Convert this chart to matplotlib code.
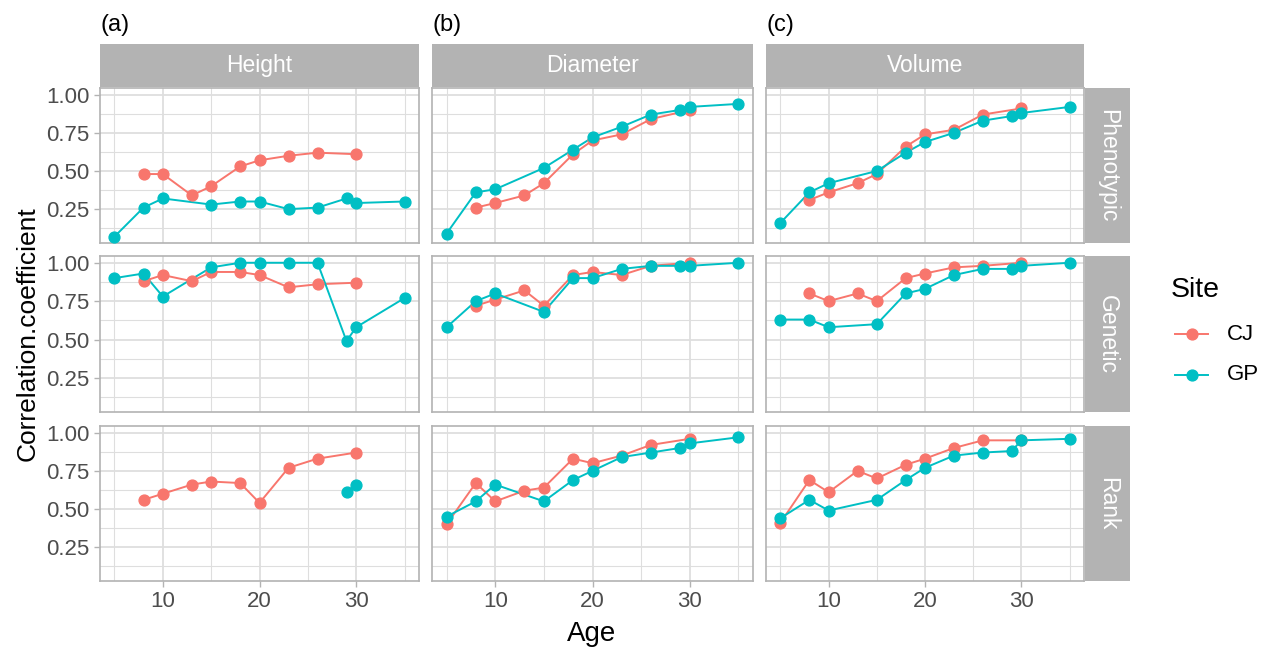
import numpy as np
import matplotlib
matplotlib.use("Agg")
import matplotlib.pyplot as plt
from matplotlib.lines import Line2D

plt.rcParams["font.family"] = ["Liberation Sans", "DejaVu Sans"]

nan = np.nan
ages = [5, 8, 10, 13, 15, 18, 20, 23, 26, 29, 30, 35]
traits = ["Height", "Diameter", "Volume"]
kinds = ["Phenotypic", "Genetic", "Rank"]
panel_tags = ["(a)", "(b)", "(c)"]
sites = ["CJ", "GP"]

height_pheno_cj = [nan, 0.48, 0.48, 0.34, 0.40, 0.53, 0.57, 0.60, 0.62, nan, 0.61, nan]
height_pheno_gp = [0.07, 0.26, 0.32, nan, 0.28, 0.30, 0.30, 0.25, 0.26, 0.32, 0.29, 0.30]
height_gen_cj = [nan, 0.88, 0.92, 0.88, 0.94, 0.94, 0.92, 0.84, 0.86, nan, 0.87, nan]
height_gen_gp = [0.90, 0.93, 0.78, nan, 0.97, 1.00, 1.00, 1.00, 1.00, 0.49, 0.58, 0.77]
height_rank_cj = [nan, 0.56, 0.60, 0.66, 0.68, 0.67, 0.54, 0.77, 0.83, nan, 0.87, nan]
height_rank_gp = [nan, nan, nan, nan, nan, nan, nan, nan, nan, 0.61, 0.66, nan]

diam_pheno_cj = [nan, 0.26, 0.29, 0.34, 0.42, 0.61, 0.70, 0.74, 0.84, nan, 0.90, nan]
diam_pheno_gp = [0.09, 0.36, 0.38, nan, 0.52, 0.64, 0.72, 0.79, 0.87, 0.90, 0.92, 0.94]
diam_gen_cj = [nan, 0.72, 0.76, 0.82, 0.72, 0.92, 0.94, 0.92, 0.98, nan, 1.00, nan]
diam_gen_gp = [0.58, 0.75, 0.80, nan, 0.68, 0.90, 0.90, 0.96, 0.98, 0.98, 0.98, 1.00]
diam_rank_cj = [0.40, 0.67, 0.55, 0.62, 0.64, 0.83, 0.80, 0.85, 0.92, nan, 0.96, nan]
diam_rank_gp = [0.45, 0.55, 0.66, nan, 0.55, 0.69, 0.75, 0.84, 0.87, 0.90, 0.93, 0.97]

vol_pheno_cj = [nan, 0.31, 0.36, 0.42, 0.48, 0.66, 0.74, 0.77, 0.87, nan, 0.91, nan]
vol_pheno_gp = [0.16, 0.36, 0.42, nan, 0.50, 0.62, 0.69, 0.75, 0.83, 0.86, 0.88, 0.92]
vol_gen_cj = [nan, 0.80, 0.75, 0.80, 0.75, 0.90, 0.93, 0.97, 0.98, nan, 1.00, nan]
vol_gen_gp = [0.63, 0.63, 0.58, nan, 0.60, 0.80, 0.83, 0.92, 0.96, 0.96, 0.98, 1.00]
vol_rank_cj = [0.41, 0.69, 0.61, 0.75, 0.70, 0.79, 0.83, 0.90, 0.95, nan, 0.95, nan]
vol_rank_gp = [0.44, 0.56, 0.49, nan, 0.56, 0.69, 0.77, 0.85, 0.87, 0.88, 0.95, 0.96]

# [trait][kind] -> (CJ, GP)
data = [
    [(height_pheno_cj, height_pheno_gp), (height_gen_cj, height_gen_gp), (height_rank_cj, height_rank_gp)],
    [(diam_pheno_cj, diam_pheno_gp), (diam_gen_cj, diam_gen_gp), (diam_rank_cj, diam_rank_gp)],
    [(vol_pheno_cj, vol_pheno_gp), (vol_gen_cj, vol_gen_gp), (vol_rank_cj, vol_rank_gp)],
]

colors = {"CJ": "#F8766D", "GP": "#00BFC4"}
border = "#B3B3B3"
gridc = "#DEDEDE"

W, H = 1266, 648
fig = plt.figure(figsize=(W / 100, H / 100), dpi=100)

col_x = [(100, 419), (432, 753), (766, 1084)]
row_y = [(88, 243), (256, 412), (426, 581)]

def px_rect(x0, x1, y0, y1):
    return [x0 / W, 1 - y1 / H, (x1 - x0) / W, (y1 - y0) / H]

for c in range(3):
    for r in range(3):
        x0, x1 = col_x[c]
        y0, y1 = row_y[r]
        ax = fig.add_axes(px_rect(x0, x1, y0, y1))
        ax.set_xlim(3.5, 36.5)
        ax.set_ylim(0.028, 1.044)
        ax.set_xticks([10, 20, 30])
        ax.set_xticks([5, 15, 25, 35], minor=True)
        ax.set_yticks([0.25, 0.5, 0.75, 1.0])
        ax.set_yticks([0.125, 0.375, 0.625, 0.875], minor=True)
        ax.grid(True, which="major", color=gridc, lw=1.3)
        ax.grid(True, which="minor", color=gridc, lw=0.8)
        ax.set_axisbelow(True)
        for s in ax.spines.values():
            s.set_color(border)
            s.set_linewidth(1.2)
        ax.tick_params(which="minor", length=0)
        ax.tick_params(which="major", color=border, length=4, width=1,
                       labelsize=16, labelcolor="#4D4D4D")
        if c == 0:
            ax.set_yticklabels(["0.25", "0.50", "0.75", "1.00"])
        else:
            ax.tick_params(axis="y", which="major", length=0, labelleft=False)
        if r == 2:
            ax.set_xticklabels(["10", "20", "30"])
        else:
            ax.tick_params(axis="x", which="major", length=0, labelbottom=False)

        for site, vals in zip(sites, data[c][r]):
            v = np.array(vals, dtype=float)
            a = np.array(ages, dtype=float)
            m = ~np.isnan(v)
            ax.plot(a[m], v[m], color=colors[site], lw=1.4, zorder=2)
        for site, vals in zip(sites, data[c][r]):
            v = np.array(vals, dtype=float)
            a = np.array(ages, dtype=float)
            m = ~np.isnan(v)
            ax.plot(a[m], v[m], "o", color=colors[site], ms=7.8, zorder=3)

        # right strips
        if c == 2:
            sax = fig.add_axes(px_rect(1085, 1130, y0, y1))
            sax.set_facecolor(border)
            sax.set_xticks([]); sax.set_yticks([])
            for s in sax.spines.values():
                s.set_visible(False)
            sax.text(0.5, 0.5, kinds[r], rotation=-90, color="white", fontsize=16.5,
                     ha="center", va="center", transform=sax.transAxes)

    # top strips
    x0, x1 = col_x[c]
    tax = fig.add_axes(px_rect(x0, x1, 44, 87))
    tax.set_facecolor(border)
    tax.set_xticks([]); tax.set_yticks([])
    for s in tax.spines.values():
        s.set_visible(False)
    tax.text(0.5, 0.5, traits[c], color="white", fontsize=16.5,
             ha="center", va="center", transform=tax.transAxes)
    fig.text(x0 / W, 1 - 25 / H, panel_tags[c], fontsize=17, ha="left", va="center")

fig.text(28 / W, 1 - 334 / H, "Correlation.coefficient", rotation=90,
         fontsize=19, ha="center", va="center")
fig.text(592 / W, 1 - 634 / H, "Age", fontsize=20, ha="center", va="center")

# legend
fig.text(1171 / W, 1 - 290 / H, "Site", fontsize=20.5, ha="left", va="center")
for i, site in enumerate(sites):
    yy = 334 + i * 41
    fig.add_artist(Line2D([1175 / W, 1208 / W], [1 - yy / H, 1 - yy / H],
                          color=colors[site], lw=1.4))
    fig.add_artist(Line2D([1191.5 / W], [1 - yy / H], marker="o", ms=7.8,
                          color=colors[site]))
    fig.text(1227 / W, 1 - yy / H, site, fontsize=16, ha="left", va="center")

fig.savefig("out.png", dpi=100)
